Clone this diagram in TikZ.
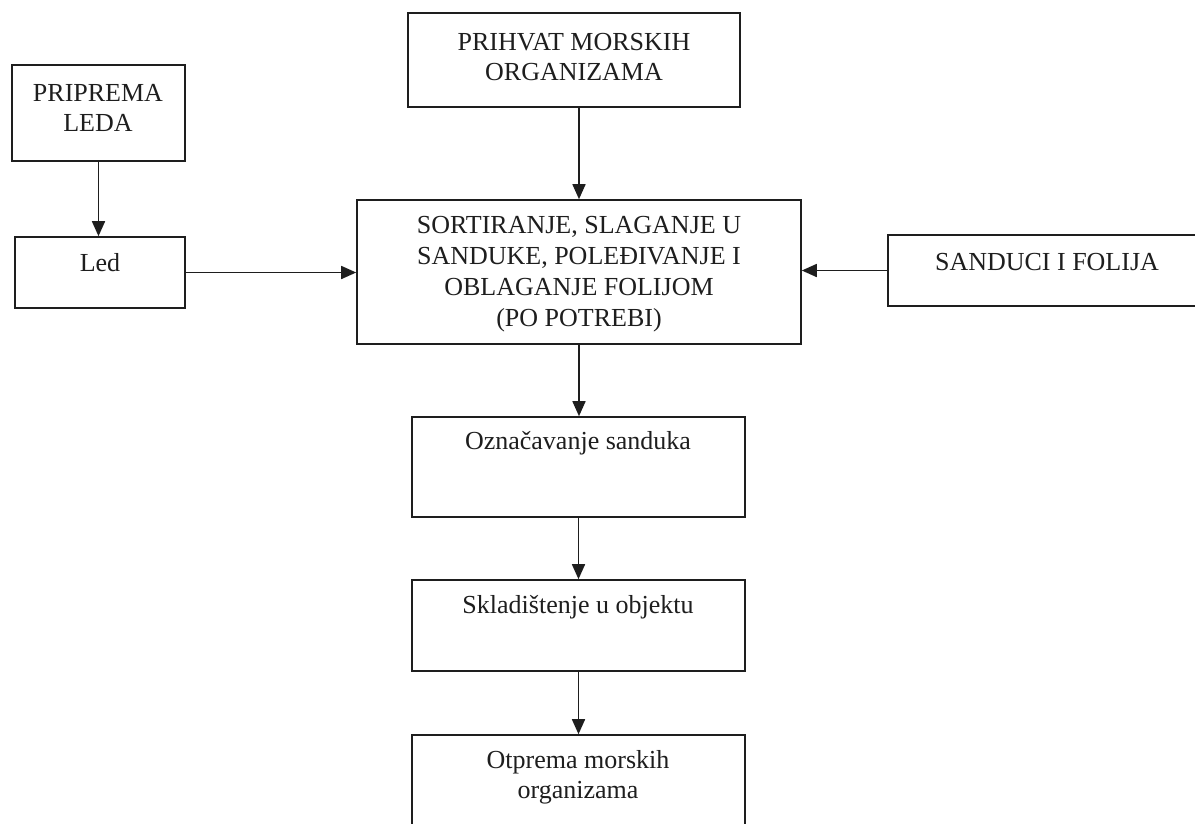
\documentclass[tikz,border=0pt]{standalone}
\usepackage{fontspec}
\setmainfont{Liberation Serif}
\usetikzlibrary{arrows.meta}
\definecolor{ink}{HTML}{1E1E1E}
\tikzset{
  box/.style={draw=ink, line width=1.6pt, rectangle, inner sep=0pt},
  lbl/.style={text=ink, align=center, inner sep=0pt, font=\fontsize{26}{30}\selectfont},
  arr/.style={draw=ink, line width=1.6pt, -{Triangle[width=13pt,length=15pt]}}
}
\begin{document}
\begin{tikzpicture}[x=1pt,y=-1pt]
\useasboundingbox (0,0) rectangle (1195,823);
\clip (0,0) rectangle (1195,823);
\fill[white] (0,0) rectangle (1195,823);
% boxes
\node[box, minimum width=173pt, minimum height=96pt] (prip) at (98.5,113) {};
\node[box, minimum width=170pt, minimum height=71pt] (led) at (100,272.5) {};
\node[box, minimum width=332pt, minimum height=94pt] (prih) at (574,60) {};
\node[box, minimum width=444pt, minimum height=144pt] (sort) at (579,272) {};
\node[box, minimum width=327pt, minimum height=71pt] (sand) at (1051.5,270.5) {};
\node[box, minimum width=333pt, minimum height=100pt] (ozn) at (578.5,467) {};
\node[box, minimum width=333pt, minimum height=91pt] (skl) at (578.5,625.5) {};
\node[box, minimum width=333pt, minimum height=105pt] (otp) at (578.5,787.5) {};
% labels
\node[lbl] (tprip) at (98,108) {PRIPREMA\\LEDA};
\node[lbl] (tled) at (100,263) {Led};
\node[lbl] (tprih) at (574,57.5) {PRIHVAT MORSKIH\\ORGANIZAMA};
\node[lbl, font=\fontsize{26}{31}\selectfont] (tsort) at (579,274) {SORTIRANJE, SLAGANJE U\\SANDUKE, POLEĐIVANJE I\\OBLAGANJE FOLIJOM\\(PO POTREBI)};
\node[lbl] (tsand) at (1047,262) {SANDUCI I FOLIJA};
\node[lbl] (tozn) at (578,443) {Označavanje sanduka};
\node[lbl] (tskl) at (578,607) {Skladištenje u objektu};
\node[lbl] (totp) at (578,777) {Otprema morskih\\organizama};
% connectors
\draw[arr] (prip.south) -- (prip.south |- led.north);
\draw[arr] (sort.north |- prih.south) -- (sort.north);
\draw[arr] (led.east) -- (led.east -| sort.west);
\draw[arr] (sand.west) -- (sand.west -| sort.east);
\draw[arr] (sort.south) -- (sort.south |- ozn.north);
\draw[arr] (ozn.south) -- (ozn.south |- skl.north);
\draw[arr] (skl.south) -- (skl.south |- otp.north);
\end{tikzpicture}
\end{document}
